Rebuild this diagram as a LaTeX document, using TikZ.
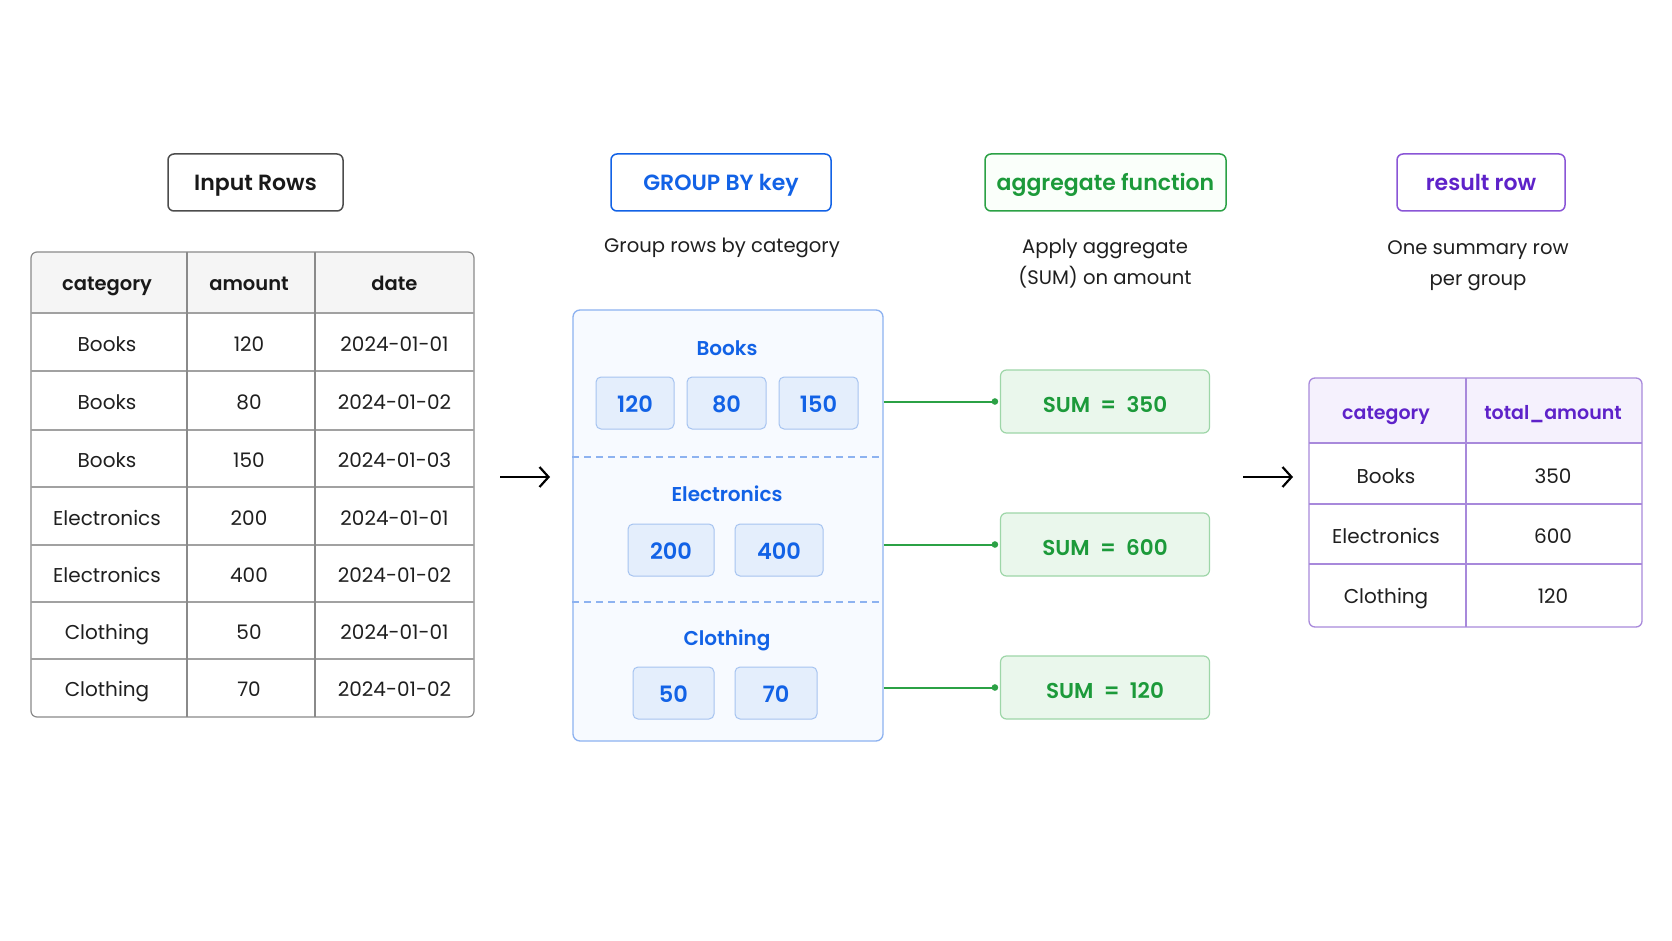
\documentclass[tikz,border=0pt]{standalone}
\usepackage{fontspec}
\setmainfont{Poppins}[BoldFont={Poppins SemiBold}]
\usetikzlibrary{arrows.meta,calc}
\definecolor{gblue}{HTML}{1262E6}
\definecolor{gbord}{HTML}{8DB2F0}
\definecolor{gfill}{HTML}{F7FAFF}
\definecolor{vfill}{HTML}{E4EEFC}
\definecolor{vbord}{HTML}{A6C3F0}
\definecolor{ggreen}{HTML}{1C9A3A}
\definecolor{gline}{HTML}{2BA145}
\definecolor{sfill}{HTML}{EAF7EC}
\definecolor{sbord}{HTML}{9ED6A8}
\definecolor{pur}{HTML}{5E22C9}
\definecolor{pbord}{HTML}{8A55D6}
\definecolor{ptab}{HTML}{A889DB}
\definecolor{pfill}{HTML}{F5F1FD}
\definecolor{tgray}{HTML}{8A8A8A}
\definecolor{hfill}{HTML}{F5F5F5}
\tikzset{
  tb/.style={text height=#1, text depth=0pt},
  hdr/.style={draw, rounded corners=6pt, line width=1.5pt, font=\fontsize{22}{27}\selectfont\bfseries, inner sep=0pt, tb=16.9pt},
  body/.style={font=\fontsize{19.6}{31}\selectfont, align=center, text=black!88},
  cell/.style={font=\fontsize{20}{24}\selectfont, text=black!88, tb=16.8pt},
  hcell/.style={font=\fontsize{19.5}{24}\selectfont\bfseries, text=black!90, tb=15.6pt},
  vbox/.style={draw=vbord, fill=vfill, rounded corners=5pt, line width=1pt, font=\fontsize{22.5}{25}\selectfont\bfseries, text=gblue, inner sep=0pt, tb=19.3pt},
  glabel/.style={font=\fontsize{20}{24}\selectfont\bfseries, text=gblue, tb=13.8pt},
  sumbox/.style={draw=sbord, fill=sfill, rounded corners=6pt, line width=1.2pt, font=\fontsize{21.5}{25}\selectfont\bfseries, text=ggreen, inner sep=0pt, tb=21.9pt},
  rhcell/.style={font=\fontsize{19}{24}\selectfont\bfseries, text=pur, tb=17.5pt},
  flow/.style={line width=2.2pt, -{Straight Barb[length=9pt,width=20pt,line width=2.2pt]}},
  gconn/.style={draw=gline, line width=2pt},
}
\begin{document}
\begin{tikzpicture}[x=1pt,y=-1pt]
\useasboundingbox[fill=white] (0,0) rectangle (1672,941);

% ---------- headers ----------
\node[hdr, draw=black!70, text=black!90, minimum width=175pt, minimum height=57pt] (hin) at (255.5,182.5) {Input Rows};
\node[hdr, draw=gblue, text=gblue, minimum width=220pt, minimum height=57pt] (hgrp) at (721,182.5) {GROUP BY key};
\node[hdr, draw=gline, fill=green!2, text=ggreen, minimum width=241pt, minimum height=57pt] (hagg) at (1105.5,182.5) {aggregate function};
\node[hdr, draw=pbord, text=pur, minimum width=168pt, minimum height=57pt] (hres) at (1481,182.5) {result row};

\node[body] (dgrp) at (722,248) {Group rows by category};
\node[body] (dagg) at (1105,264) {Apply aggregate\\(SUM) on amount};
\node[body] (dres) at (1478,266) {One summary row\\per group};

% ---------- input table ----------
\begin{scope}
\fill[hfill, rounded corners=6pt] (31,252) rectangle (474,300);
\fill[hfill] (31,290) rectangle (474,313);
\draw[tgray, line width=1.2pt, rounded corners=6pt] (31,252) rectangle (474,717);
\foreach \y in {313,371,430,487,545,602,659} \draw[tgray!80, line width=1.1pt] (31,\y) -- (474,\y);
\draw[tgray, line width=1.1pt] (187,252) -- (187,717);
\draw[tgray, line width=1.1pt] (315,252) -- (315,717);
\end{scope}
\node[hcell] (ih1) at (107,283) {category};
\node[hcell] (ih2) at (249,283) {amount};
\node[hcell] (ih3) at (394.5,283) {date};
\foreach \c/\a/\d/\y [count=\i] in {Books/120/2024-01-01/343, Books/80/2024-01-02/401, Books/150/2024-01-03/459, Electronics/200/2024-01-01/517, Electronics/400/2024-01-02/574, Clothing/50/2024-01-01/631, Clothing/70/2024-01-02/688}{
  \node[cell] (ic\i) at (107,\y) {\c};
  \node[cell] (ia\i) at (249,\y) {\a};
  \node[cell] (id\i) at (394.5,\y) {\d};
}

% ---------- flow arrows ----------
\coordinate (a1s) at (500,477);
\coordinate (a1e) at (550,477);
\draw[flow] (a1s) -- (a1e);
\coordinate (a2s) at (1243,477);
\coordinate (a2e) at (1293,477);
\draw[flow] (a2s) -- (a2e);

% ---------- group box ----------
\node[draw=gbord, fill=gfill, rounded corners=7pt, line width=1.3pt, minimum width=310pt, minimum height=431pt, inner sep=0pt] (grp) at (728,525.5) {};
\draw[gbord, line width=1.3pt, dash pattern=on 7pt off 5pt] (grp.west |- 0,457) -- (grp.east |- 0,457);
\draw[gbord, line width=1.3pt, dash pattern=on 7pt off 5pt] (grp.west |- 0,602) -- (grp.east |- 0,602);

\node[glabel] (lb) at (727,349) {Books};
\node[vbox, minimum width=78pt, minimum height=52pt] (v1) at (635,403) {120};
\node[vbox, minimum width=79pt, minimum height=52pt] (v2) at (726.5,403) {80};
\node[vbox, minimum width=79pt, minimum height=52pt] (v3) at (818.5,403) {150};

\node[glabel] (le) at (727,495) {Electronics};
\node[vbox, minimum width=86pt, minimum height=52pt] (v4) at (671,550) {200};
\node[vbox, minimum width=88pt, minimum height=52pt] (v5) at (779,550) {400};

\node[glabel] (lc) at (727,639) {Clothing};
\node[vbox, minimum width=81pt, minimum height=52pt] (v6) at (673.5,693) {50};
\node[vbox, minimum width=82pt, minimum height=52pt] (v7) at (776,693) {70};

% ---------- sum boxes ----------
\node[sumbox, minimum width=209pt, minimum height=63pt] (s1) at (1105,401.5) {SUM\ \ =\ \ 350};
\node[sumbox, minimum width=209pt, minimum height=63pt] (s2) at (1105,544.5) {SUM\ \ =\ \ 600};
\node[sumbox, minimum width=209pt, minimum height=63pt] (s3) at (1105,687.5) {SUM\ \ =\ \ 120};

\foreach \s in {s1,s2,s3}{
  \draw[gconn] (grp.east |- \s.west) -- ([xshift=-5pt]\s.west);
  \fill[gline] ([xshift=-5pt]\s.west) circle (3.3pt);
}

% ---------- result table ----------
\fill[pfill, rounded corners=6pt] (1309,378) rectangle (1642,420);
\fill[pfill] (1309,410) rectangle (1642,443);
\draw[ptab, line width=1.3pt, rounded corners=6pt] (1309,378) rectangle (1642,627);
\foreach \y in {443,504,564} \draw[ptab, line width=1.2pt] (1309,\y) -- (1642,\y);
\draw[ptab, line width=1.2pt] (1466,378) -- (1466,627);
\node[rhcell] (rh1) at (1386,411) {category};
\node[rhcell] (rh2) at (1553,411) {total\_amount};
\foreach \c/\v/\y [count=\i] in {Books/350/475.5, Electronics/600/535, Clothing/120/595.5}{
  \node[cell] (rc\i) at (1386,\y) {\c};
  \node[cell] (rv\i) at (1553,\y) {\v};
}
\end{tikzpicture}
\end{document}
